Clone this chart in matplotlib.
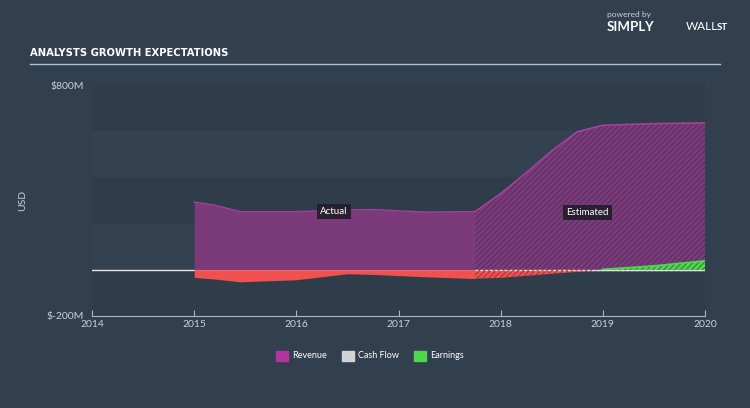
import numpy as np
import matplotlib
matplotlib.use("Agg")
import matplotlib.pyplot as plt
from matplotlib.patches import Rectangle

# actual period (years, values in $M)
act_years = [2015.0, 2015.2, 2015.45, 2016.0, 2016.5, 2016.75, 2017.25, 2017.75]
act_revenue = [293, 280, 252, 252, 259, 261, 250, 252]
act_earnings = [-33, -40, -52, -43, -17, -20, -30, -38]
act_cashflow = [0, 0, 0, 0, 0, 0, 0, 0]

# estimated period
est_years = [2017.75, 2018.0, 2018.25, 2018.5, 2018.75, 2019.0, 2019.5, 2020.0]
est_revenue = [252, 330, 420, 515, 598, 626, 633, 636]
est_earnings = [-38, -35, -26, -17, -9, 2, 17, 39]
est_cashflow = [0, 0, 0, 0, 0, 0, 0, 0]

year_ticks = [2014, 2015, 2016, 2017, 2018, 2019, 2020]
legend_names = ["Revenue", "Cash Flow", "Earnings"]

BG = "#323f4e"
TXT = "#c9d1da"
PURPLE = "#7b3b7a"
MAGENTA = "#a2429c"
RED = "#f0504e"
GREEN = "#4fd64f"

plt.rcParams['font.family'] = ['Lato', 'DejaVu Sans']
plt.rcParams['hatch.linewidth'] = 0.6

fig = plt.figure(figsize=(7.5, 4.08), dpi=100, facecolor=BG)
ax = fig.add_axes([0.1227, 0.2255, 0.8173, 0.566])
ax.set_facecolor(BG)
ax.set_xlim(2014, 2020)
ax.set_ylim(-200, 800)

# alternating horizontal bands
for i, lo in enumerate(range(-200, 800, 200)):
    col = "#2f3c4a" if i % 2 == 0 else "#334150"
    ax.axhspan(lo, lo + 200, color=col, lw=0, zorder=0)

ax.axhline(0, color="#e6e6e6", lw=1.0, zorder=1)

ax_ = np.array(act_years)
ex = np.array(est_years)

# actual fills
ax.fill_between(ax_, 0, act_revenue, color=PURPLE, lw=0, zorder=2)
ax.plot(ax_, act_revenue, color=MAGENTA, lw=1.0, zorder=3)
ax.fill_between(ax_, 0, act_earnings, color=RED, lw=0, zorder=3)

# estimated fills (hatched)
ax.fill_between(ex, 0, est_revenue, facecolor=PURPLE, edgecolor="#522c58",
                hatch="//////", lw=0, zorder=2)
ax.plot(ex, est_revenue, color=MAGENTA, lw=1.2, zorder=3)
e = np.array(est_earnings)
ax.fill_between(ex, 0, e, where=e <= 0, interpolate=True, facecolor=RED,
                edgecolor="#8a3040", hatch="//////", lw=0, zorder=3)
ax.fill_between(ex, 0, e, where=e >= 0, interpolate=True, facecolor=GREEN,
                edgecolor="#2a6a3a", hatch="//////", lw=0, zorder=3)
ax.plot(ex[e >= 0], e[e >= 0], color=GREEN, lw=1.2, zorder=4)
ax.plot(ex, est_cashflow, color="#dddddd", lw=1.0, ls=(0, (2, 1.5)), zorder=4)

# labels
bbox = dict(boxstyle="square,pad=0.3", fc="#221c2b", ec="none", alpha=0.9)
ax.text(2016.37, 252, "Actual", color="white", fontsize=7, ha="center",
        va="center", bbox=bbox, zorder=5)
ax.text(2018.85, 248, "Estimated", color="white", fontsize=7, ha="center",
        va="center", bbox=bbox, zorder=5)

# axes styling
for s in ["top", "right", "left"]:
    ax.spines[s].set_visible(False)
ax.spines["bottom"].set_color("#a8b8c8")
ax.set_xticks(year_ticks)
ax.set_xticklabels([str(y) for y in year_ticks])
ax.tick_params(axis="x", direction="in", length=4, color="#a8b8c8",
               labelcolor=TXT, labelsize=7.5, pad=3)
ax.set_yticks([-200, 800])
ax.set_yticklabels(["$-200M", "$800M"])
ax.tick_params(axis="y", length=0, labelcolor=TXT, labelsize=7.5, pad=6)
ax.set_ylabel("USD", color=TXT, fontsize=7.5, labelpad=14)

# title and header
fig.text(30 / 750, 1 - 53 / 408, "ANALYSTS GROWTH EXPECTATIONS", color="white",
         fontsize=8, fontweight="bold", fontstretch="condensed",
         va="center", ha="left",
         family=["DejaVu Sans", "Liberation Sans Narrow"])
fig.add_artist(plt.Line2D([30 / 750, 720 / 750], [1 - 64 / 408, 1 - 64 / 408],
                          color="#a9c3dc", lw=1.0))
fig.text(607 / 750, 1 - 14 / 408, "powered by", color="#c9d1da", fontsize=6,
         ha="left", va="center")
fig.text(607 / 750, 1 - 27 / 408, "SIMPLY", color="white", fontsize=9.5,
         fontweight="bold", ha="left", va="center")
fig.text(686 / 750, 1 - 27 / 408, "WALL", color="white", fontsize=8.5,
         ha="left", va="center")
fig.text(717 / 750, 1 - 27 / 408, "ST", color="white", fontsize=7,
         fontweight="bold", ha="left", va="center")

# legend
leg_colors = ["#b0359f", "#d3d3d3", GREEN]
leg_x = [276, 342, 414]
for name, c, lx in zip(legend_names, leg_colors, leg_x):
    fig.add_artist(Rectangle((lx / 750, 1 - 361 / 408), 12 / 750, 10 / 408,
                             transform=fig.transFigure, color=c))
    fig.text((lx + 16) / 750, 1 - 356 / 408, name, color="white", fontsize=6.5,
             ha="left", va="center")

fig.savefig("out.png", dpi=100, facecolor=BG)
